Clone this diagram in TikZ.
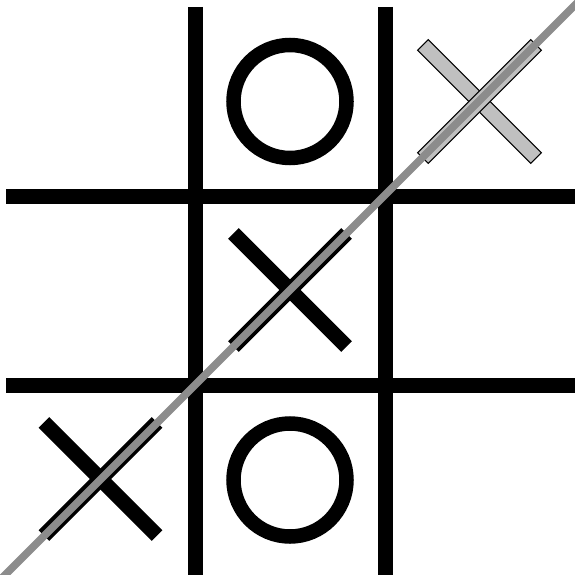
\documentclass[tikz,border=0pt]{standalone}
\definecolor{ghost}{RGB}{192,192,192}
\definecolor{wingray}{RGB}{140,140,140}
\begin{document}
\begin{tikzpicture}[x=1pt,y=-1pt,
  gridline/.style={line width=15pt, black},
  ring/.style={line width=14.5pt, black},
  xbar/.style={line width=15pt, black},
  ghostbar/.style={fill=ghost, draw=black, line width=1pt},
  winline/.style={line width=7.5pt, wingray}]
\useasboundingbox (0,0) rectangle (574,575);
% grid
\coordinate (v1t) at (195,7);   \coordinate (v1b) at (195,580);
\coordinate (v2t) at (385,7);   \coordinate (v2b) at (385,580);
\coordinate (h1l) at (6,196.5); \coordinate (h1r) at (580,196.5);
\coordinate (h2l) at (6,385);   \coordinate (h2r) at (580,385);
\draw[gridline] (v1t) -- (v1b);
\draw[gridline] (v2t) -- (v2b);
\draw[gridline] (h1l) -- (h1r);
\draw[gridline] (h2l) -- (h2r);
% O's
\coordinate (o1) at (290,101.5);
\coordinate (o2) at (290,480);
\draw[ring] (o1) circle[radius=56.5];
\draw[ring] (o2) circle[radius=56.5];
% black X's
\begin{scope}[shift={(290,290)}]
  \draw[xbar] (-56.57,-56.57) -- (56.57,56.57);
  \draw[xbar] (-56.57,56.57) -- (56.57,-56.57);
\end{scope}
\begin{scope}[shift={(100.5,479)}]
  \draw[xbar] (-56.57,-56.57) -- (56.57,56.57);
  \draw[xbar] (-56.57,56.57) -- (56.57,-56.57);
\end{scope}
% ghost X
\begin{scope}[shift={(479.5,101.5)}]
  \draw[ghostbar] (61.87,51.27) -- (51.27,61.87) -- (-61.87,-51.27) -- (-51.27,-61.87) -- cycle;
  \draw[ghostbar] (61.87,-51.27) -- (51.27,-61.87) -- (-61.87,51.27) -- (-51.27,61.87) -- cycle;
\end{scope}
% winning line
\coordinate (wa) at (1,579);
\coordinate (wb) at (579,1);
\draw[winline] (wa) -- (wb);
\end{tikzpicture}
\end{document}
